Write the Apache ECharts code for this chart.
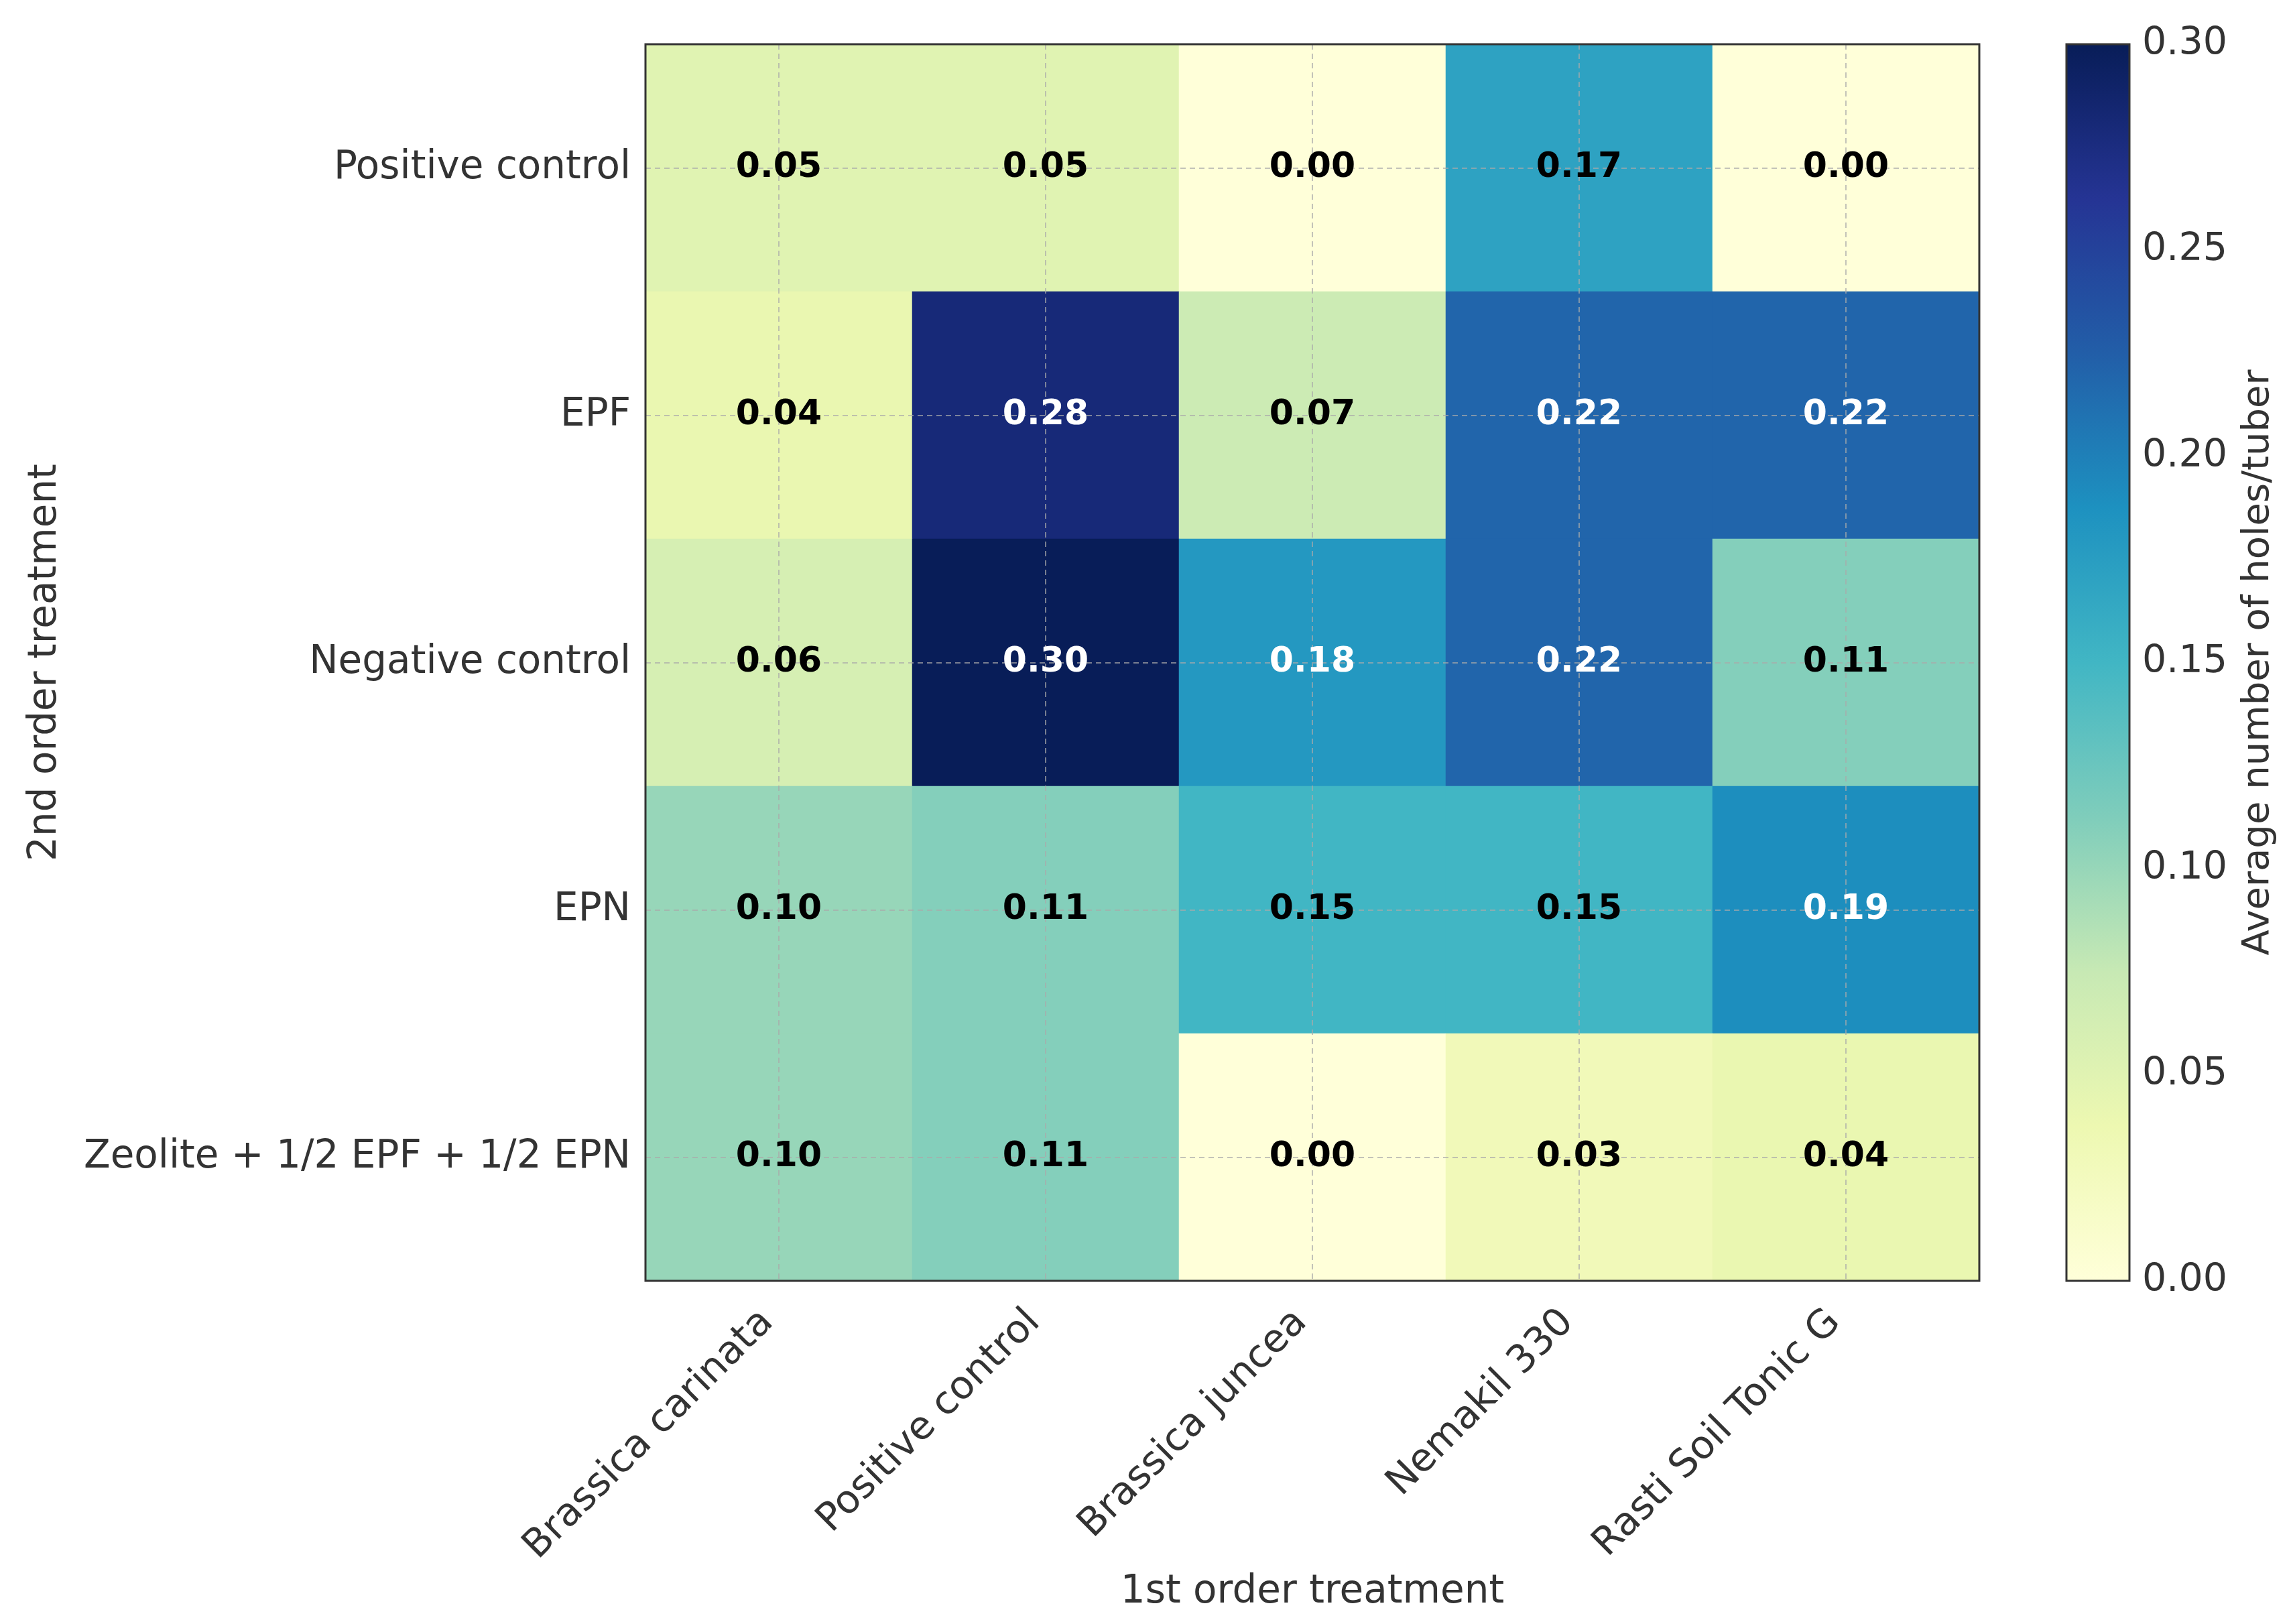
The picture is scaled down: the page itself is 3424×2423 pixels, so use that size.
<!DOCTYPE html>
<html>
<head>
<meta charset="utf-8">
<script src="https://cdn.jsdelivr.net/npm/echarts@6/dist/echarts.min.js"></script>
<style>
html,body{margin:0;padding:0;background:#fff;}
#chart{width:3424px;height:2423px;}
</style>
</head>
<body>
<div id="chart"></div>
<script>
// ---- data ----
const xCategories = ['Brassica carinata', 'Positive control', 'Brassica juncea', 'Nemakil 330', 'Rasti Soil Tonic G'];
const yCategories = ['Positive control', 'EPF', 'Negative control', 'EPN', 'Zeolite + 1/2 EPF + 1/2 EPN'];
const rowPositiveControl = [0.05, 0.05, 0.00, 0.17, 0.00];
const rowEPF = [0.04, 0.28, 0.07, 0.22, 0.22];
const rowNegativeControl = [0.06, 0.30, 0.18, 0.22, 0.11];
const rowEPN = [0.10, 0.11, 0.15, 0.15, 0.19];
const rowZeolite = [0.10, 0.11, 0.00, 0.03, 0.04];
const colorbarTicks = [0.00, 0.05, 0.10, 0.15, 0.20, 0.25, 0.30];
const xTitle = '1st order treatment';
const yTitle = '2nd order treatment';
const cbTitle = 'Average number of holes/tuber';

const rows = [rowPositiveControl, rowEPF, rowNegativeControl, rowEPN, rowZeolite];
const YlGnBu = ['#ffffd9', '#edf8b1', '#c7e9b4', '#7fcdbb', '#41b6c4', '#1d91c0', '#225ea8', '#253494', '#081d58'];
const vmin = colorbarTicks[0], vmax = colorbarTicks[colorbarTicks.length - 1];

const heatData = [];
const labelData = [];
rows.forEach((row, i) => {
  row.forEach((v, j) => {
    heatData.push([j, i, v]);
    labelData.push({ value: [j, i, v], label: { color: v > 0.175 ? '#ffffff' : '#000000' } });
  });
});

const FONT = 'DejaVu Sans';
const chart = echarts.init(document.getElementById('chart'), null, { renderer: 'canvas' });

const option = {
  backgroundColor: '#ffffff',
  animation: false,
  grid: [
    { left: 963, top: 66, width: 1990, height: 1845, show: true, borderColor: '#333333', borderWidth: 3, backgroundColor: 'transparent', z: 10 },
    { left: 3083, top: 66, width: 94, height: 1845, show: true, borderColor: '#333333', borderWidth: 3, backgroundColor: 'transparent', z: 10 }
  ],
  visualMap: {
    type: 'continuous', show: false, min: vmin, max: vmax, seriesIndex: 0, dimension: 2,
    inRange: { color: YlGnBu }
  },
  xAxis: [
    {
      gridIndex: 0, type: 'category', data: xCategories, position: 'bottom',
      axisLine: { show: false },
      axisTick: { show: true, inside: true, alignWithLabel: true, length: 14, lineStyle: { color: '#333', width: 2 } },
      axisLabel: { rotate: 45, fontSize: 58, fontFamily: FONT, color: '#333333', margin: 36, interval: 0,
        padding: [0, 24, 0, 0] },
      splitLine: { show: false },
      name: xTitle, nameLocation: 'middle', nameGap: 436,
      nameTextStyle: { fontSize: 58, fontFamily: FONT, color: '#333333' }
    },
    {
      gridIndex: 1, type: 'category', data: ['cb'], show: false, boundaryGap: true
    }
  ],
  yAxis: [
    {
      gridIndex: 0, type: 'category', data: yCategories, inverse: true,
      axisLine: { show: false },
      axisTick: { show: true, inside: true, alignWithLabel: true, length: 14, lineStyle: { color: '#333', width: 2 } },
      axisLabel: { fontSize: 58, fontFamily: FONT, color: '#333333', margin: 22, interval: 0 },
      splitLine: { show: false },
      name: yTitle, nameLocation: 'middle', nameGap: 866,
      nameTextStyle: { fontSize: 58, fontFamily: FONT, color: '#333333' }
    },
    {
      gridIndex: 1, type: 'value', position: 'right', min: vmin, max: vmax, interval: 0.05,
      axisLine: { show: false },
      axisTick: { show: true, inside: true, length: 18, lineStyle: { color: '#333', width: 2 } },
      axisLabel: { fontSize: 57, fontFamily: FONT, color: '#333333', margin: 19, showMinLabel: true, showMaxLabel: true,
        formatter: v => v.toFixed(2) },
      splitLine: { show: false },
      name: cbTitle, nameLocation: 'middle', nameGap: 164,
      nameTextStyle: { fontSize: 56, fontFamily: FONT, color: '#333333' }
    }
  ],
  series: [
    {
      type: 'heatmap', xAxisIndex: 0, yAxisIndex: 0, data: heatData,
      itemStyle: { borderWidth: 0 }, label: { show: false }, z: 2,
      emphasis: { disabled: true }
    },
    {
      type: 'line', xAxisIndex: 0, yAxisIndex: 0, data: [], z: 3, silent: true,
      markLine: {
        silent: true, symbol: ['none', 'none'], label: { show: false },
        lineStyle: { color: 'rgba(170,170,170,0.7)', width: 2, type: [8, 6] },
        data: xCategories.map(c => ({ xAxis: c })).concat(yCategories.map(c => ({ yAxis: c })))
      }
    },
    {
      type: 'scatter', xAxisIndex: 0, yAxisIndex: 0, data: labelData, z: 5, symbolSize: 0, silent: true,
      itemStyle: { opacity: 1 },
      label: {
        show: true, position: 'inside', fontSize: 52, fontWeight: 'bold', fontFamily: FONT, opacity: 1,
        textBorderWidth: 0,
        formatter: p => p.value[2].toFixed(2)
      }
    },
    {
      type: 'bar', xAxisIndex: 1, yAxisIndex: 1, data: [vmax], barWidth: '100%', silent: true,
      itemStyle: {
        color: new echarts.graphic.LinearGradient(0, 1, 0, 0,
          YlGnBu.map((c, i) => ({ offset: i / (YlGnBu.length - 1), color: c })))
      }
    }
  ]
};
chart.setOption(option);
</script>
</body>
</html>
